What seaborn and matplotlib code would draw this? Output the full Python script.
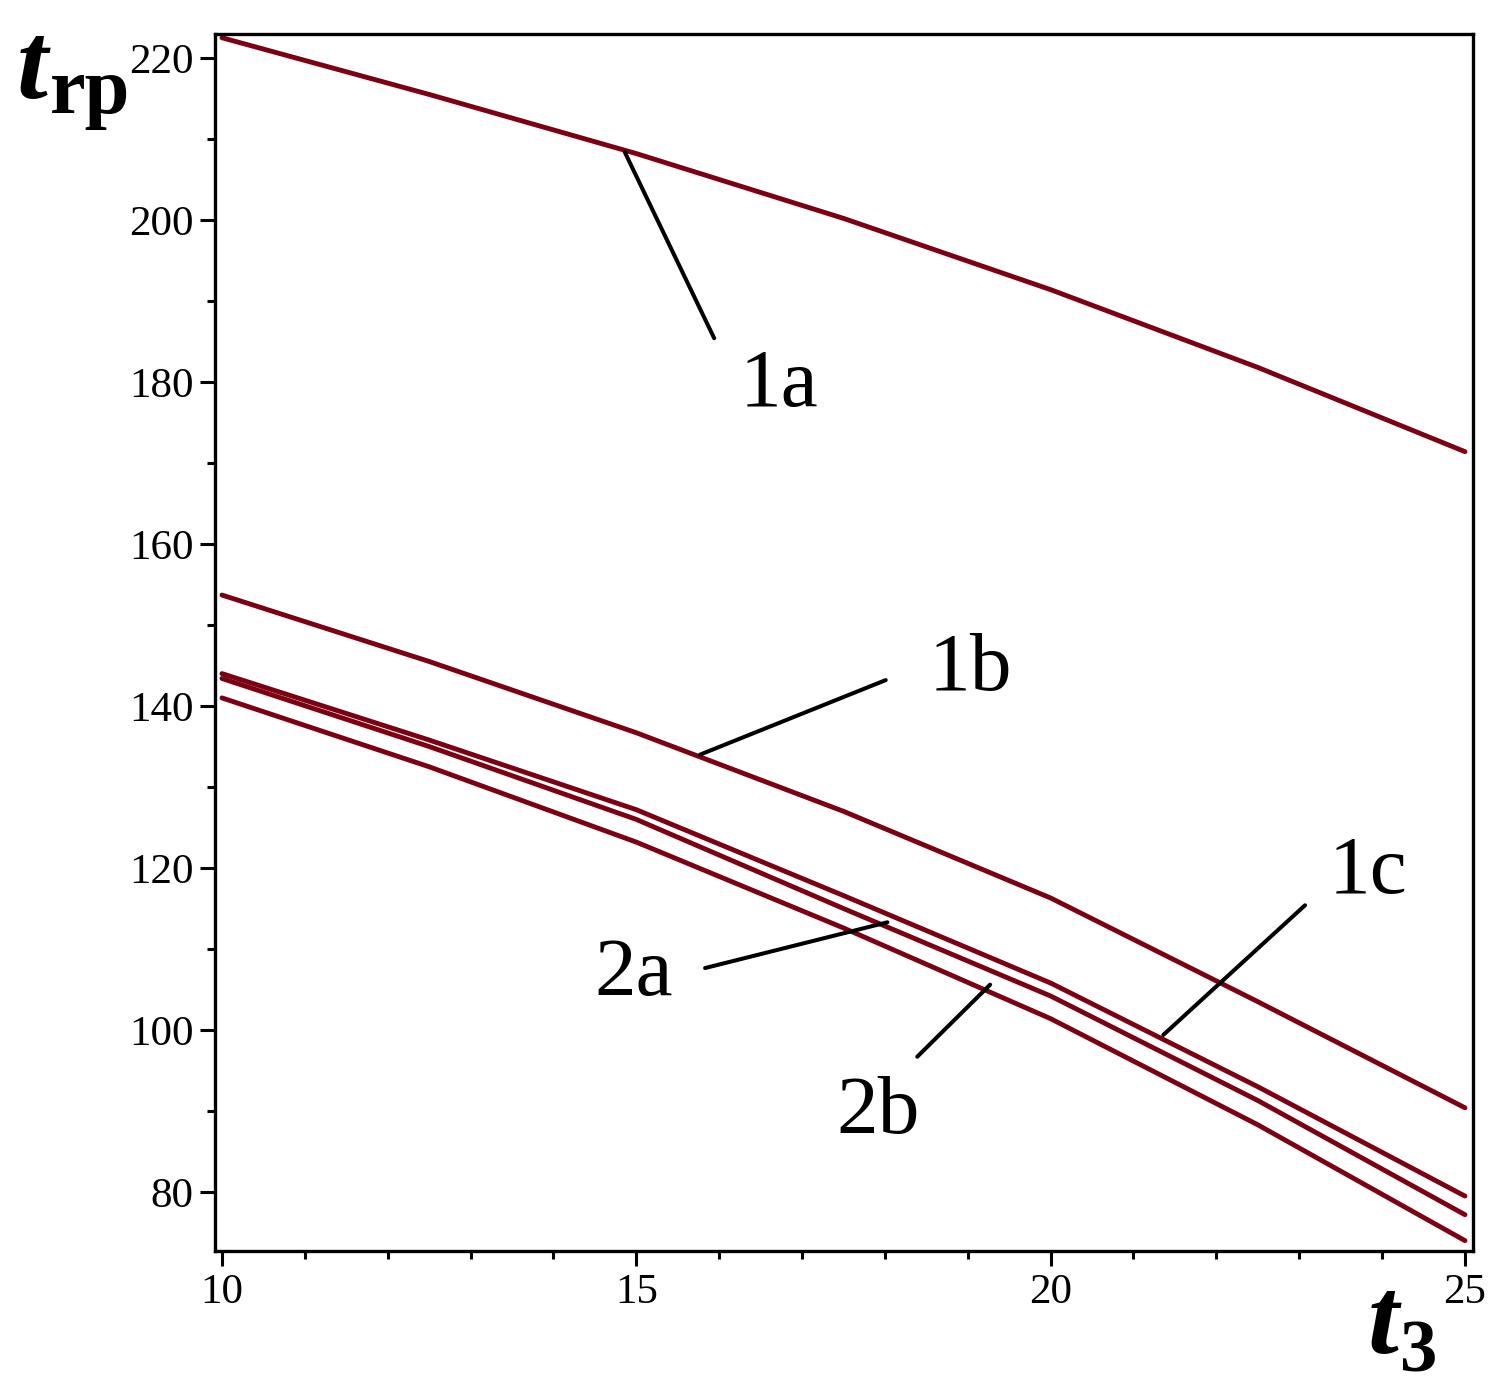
import numpy as np
import pandas as pd
import matplotlib
matplotlib.use("Agg")
import matplotlib.pyplot as plt
from matplotlib.ticker import MultipleLocator
import seaborn as sns

# values
t3 = [10, 12.5, 15, 17.5, 20, 22.5, 25]
curve_1a = [222.5, 215.5, 208.2, 200.2, 191.4, 181.8, 171.4]
curve_1b = [153.7, 145.5, 136.7, 127.0, 116.3, 103.5, 90.4]
curve_1c = [144.0, 135.8, 127.2, 116.6, 105.8, 93.0, 79.5]
curve_2a = [143.4, 135.0, 126.0, 115.0, 104.2, 91.3, 77.2]
curve_2b = [141.0, 132.5, 123.2, 112.6, 101.4, 88.3, 74.0]
curve_names = ["1a", "1b", "1c", "2a", "2b"]

# label text position (x, baseline y) and leader line (from, to) in data units
label_pos = {"1a": (16.72, 177.0), "1b": (19.03, 142.0), "1c": (23.83, 116.9),
             "2a": (14.97, 104.3), "2b": (17.92, 87.3)}
leaders = {"1a": ((15.94, 185.4), (14.86, 208.4)),
           "1b": ((18.01, 143.2), (15.77, 134.0)),
           "1c": ((23.07, 115.4), (21.36, 99.4)),
           "2a": ((15.83, 107.65), (18.03, 113.3)),
           "2b": ((18.39, 96.7), (19.27, 105.6))}

series = [curve_1a, curve_1b, curve_1c, curve_2a, curve_2b]
df = pd.concat([pd.DataFrame({"t3": t3, "trp": s, "curve": n})
                for n, s in zip(curve_names, series)], ignore_index=True)

sns.set_style("ticks")
plt.rcParams["font.family"] = ["Liberation Serif", "DejaVu Serif"]
plt.rcParams["text.color"] = "black"
plt.rcParams["xtick.color"] = "black"
plt.rcParams["ytick.color"] = "black"

W, H = 1507, 1397
fig = plt.figure(figsize=(W / 100, H / 100), dpi=100)
ax = fig.add_axes([215 / W, 1 - 1251 / H, (1473 - 215) / W, (1251 - 34) / H])

line_color = "#7b0012"
sns.lineplot(data=df, x="t3", y="trp", hue="curve", units="curve", estimator=None,
             palette=[line_color] * len(curve_names), linewidth=3.5,
             legend=False, ax=ax)

ax.set_xlim(9.916, 25.097)
ax.set_ylim(72.72, 222.96)
ax.xaxis.set_major_locator(MultipleLocator(5))
ax.xaxis.set_minor_locator(MultipleLocator(1))
ax.yaxis.set_major_locator(MultipleLocator(20))
ax.yaxis.set_minor_locator(MultipleLocator(10))
ax.tick_params(which="major", length=11, width=2.2, labelsize=31,
               color="black", labelcolor="black")
ax.tick_params(which="minor", length=5.8, width=2.2, color="black")
ax.tick_params(axis="x", which="major", pad=5.5)
ax.tick_params(axis="y", which="major", pad=4.3)
for sp in ax.spines.values():
    sp.set_visible(True)
    sp.set_linewidth(2.4)
    sp.set_color("black")
ax.set_xlabel("")
ax.set_ylabel("")

for name in curve_names:
    (x0, y0), (x1, y1) = leaders[name]
    ax.annotate("", xy=(x1, y1), xytext=(x0, y0),
                arrowprops=dict(arrowstyle="-", color="black", lw=2.9,
                                shrinkA=0, shrinkB=0))
    lx, ly = label_pos[name]
    ax.text(lx, ly, name, fontsize=60, ha="center", va="baseline", color="black")

# axis titles
def fig_text(px, py, s, **kw):
    fig.text(px / W, 1 - py / H, s, ha="left", va="baseline", color="black", **kw)

fig_text(17, 98, "t", fontsize=80, fontweight="bold", fontstyle="italic")
fig_text(50, 113, "rp", fontsize=58, fontweight="bold")
fig_text(1368, 1353, "t", fontsize=80, fontweight="bold", fontstyle="italic")
fig_text(1400, 1372, "3", fontsize=54, fontweight="bold")

fig.savefig("out.png", dpi=100)
